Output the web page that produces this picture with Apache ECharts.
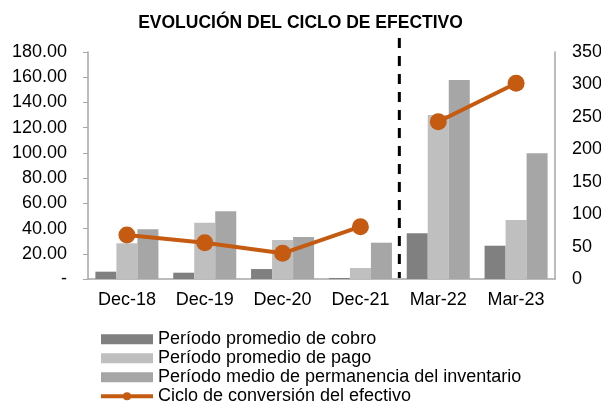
<!DOCTYPE html>
<html>
<head>
<meta charset="utf-8">
<script src="https://cdn.jsdelivr.net/npm/echarts@6/dist/echarts.min.js"></script>
<style>
  html, body { margin: 0; padding: 0; background: #fff; }
  #main { width: 601px; height: 404px; }
</style>
</head>
<body>
<div id="main"></div>
<script>
// datos del gráfico
const categories = ['Dec-18', 'Dec-19', 'Dec-20', 'Dec-21', 'Mar-22', 'Mar-23']
const cobro = [5.8, 5.0, 7.9, 0.8, 36.2, 26.4]
const pago = [28.3, 44.6, 30.9, 8.7, 130.0, 46.8]
const permanencia = [39.4, 53.7, 33.3, 28.8, 157.8, 99.7]
const ciclo = [67.8, 56.0, 39.6, 80.6, 242.5, 301.7]
const corte = 4 // primer periodo trimestral (Mar-22)

const font = 'Liberation Sans, Arial, sans-serif'
const axisGray = '#a6a6a6'
const naranja = '#c55a11'
const nombreCiclo = 'Ciclo de conversión del efectivo'

let myChart = echarts.init(document.getElementById('main'))

// la linea se corta entre Dec-21 y Mar-22
const lineaSerie = (data) => ({
  name: nombreCiclo, type: 'line', yAxisIndex: 1, data,
  symbol: 'circle', symbolSize: 17,
  lineStyle: { color: naranja, width: 4 },
  itemStyle: { color: naranja }
})

const option = {
  animation: false,
  title: {
    text: 'EVOLUCIÓN DEL CICLO DE EFECTIVO',
    left: 'center',
    top: 9,
    textStyle: { fontFamily: font, fontSize: 17.5, fontWeight: 'bold', color: '#000' }
  },
  grid: { left: 88, right: 46, top: 52, bottom: 125, outerBoundsMode: 'none' },
  legend: {
    orient: 'vertical',
    left: 94,
    top: 325,
    height: 90,
    itemWidth: 52,
    itemHeight: 10,
    itemGap: 0.5,
    lineStyle: { width: 4 },
    textStyle: { fontFamily: font, fontSize: 18, color: '#000', lineHeight: 18.5 },
    data: [
      { name: 'Período promedio de cobro', icon: 'rect' },
      { name: 'Período promedio de pago', icon: 'rect' },
      { name: 'Período medio de permanencia del inventario', icon: 'rect' },
      { name: nombreCiclo }
    ]
  },
  xAxis: {
    type: 'category',
    data: categories,
    axisLine: { lineStyle: { color: axisGray, width: 1.5 } },
    axisTick: { show: false },
    axisLabel: { fontFamily: font, fontSize: 18, color: '#000', margin: 12 }
  },
  yAxis: [
    {
      type: 'value',
      min: 0, max: 180, interval: 20,
      splitLine: { show: false },
      axisLine: { show: true, lineStyle: { color: axisGray, width: 1.5 } },
      axisTick: { show: true, inside: false, length: 5, lineStyle: { color: axisGray } },
      axisLabel: {
        fontFamily: font, fontSize: 18, color: '#000', margin: 21,
        formatter: v => v === 0 ? '-' : v.toFixed(2)
      }
    },
    {
      type: 'value',
      min: 0, max: 350, interval: 50,
      splitLine: { show: false },
      axisLine: { show: true, lineStyle: { color: axisGray, width: 1.5 } },
      axisTick: { show: false },
      axisLabel: { fontFamily: font, fontSize: 18, color: '#000', margin: 17 }
    }
  ],
  series: [
    {
      name: 'Período promedio de cobro', type: 'bar', data: cobro,
      itemStyle: { color: '#808080' }, barGap: 0, barCategoryGap: '19%'
    },
    {
      name: 'Período promedio de pago', type: 'bar', data: pago,
      itemStyle: { color: '#bfbfbf' }, barGap: 0, barCategoryGap: '19%'
    },
    {
      name: 'Período medio de permanencia del inventario', type: 'bar', data: permanencia,
      itemStyle: { color: '#a6a6a6' }, barGap: 0, barCategoryGap: '19%'
    },
    lineaSerie(ciclo.map((v, i) => i < corte ? v : '-')),
    lineaSerie(ciclo.map((v, i) => i >= corte ? v : '-'))
  ]
}
myChart.setOption(option)

// línea discontinua entre Dec-21 y Mar-22
const a = myChart.convertToPixel({ xAxisIndex: 0 }, categories[corte - 1])
const b = myChart.convertToPixel({ xAxisIndex: 0 }, categories[corte])
const xSep = (a + b) / 2
const yTop = myChart.convertToPixel({ yAxisIndex: 0 }, 180) - 14
const yBot = myChart.convertToPixel({ yAxisIndex: 0 }, 0) - 1
myChart.setOption({
  graphic: [{
    type: 'line',
    shape: { x1: xSep, y1: yTop, x2: xSep, y2: yBot },
    style: { stroke: '#000', lineWidth: 3, lineDash: [10, 8] },
    z: 100
  }]
})
</script>
</body>
</html>
